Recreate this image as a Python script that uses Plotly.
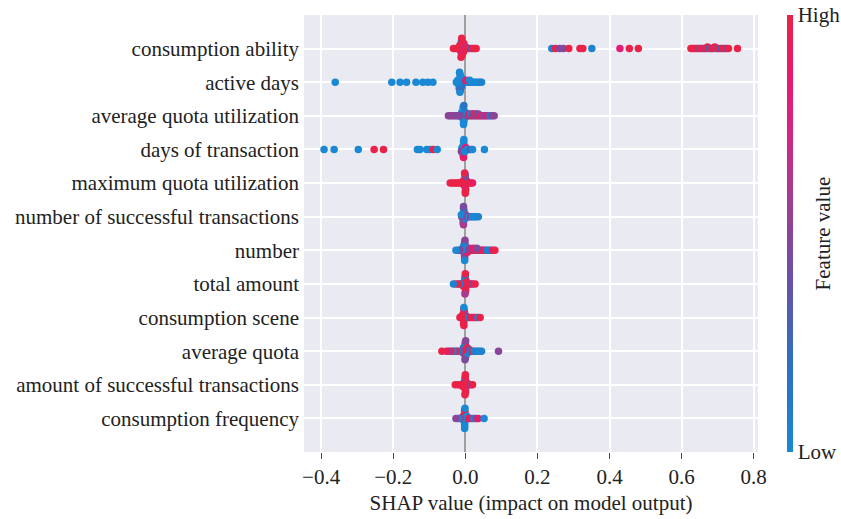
import numpy as np
import plotly.graph_objects as go

features = [
    "consumption ability", "active days", "average quota utilization",
    "days of transaction", "maximum quota utilization",
    "number of successful transactions", "number", "total amount",
    "consumption scene", "average quota", "amount of successful transactions",
    "consumption frequency",
]

x_ticks = [-0.4, -0.2, 0.0, 0.2, 0.4, 0.6, 0.8]
x_tick_labels = ["\u22120.4", "\u22120.2", "0.0", "0.2", "0.4", "0.6", "0.8"]

# SHAP values and (normalised) feature values
ca_shap = [-0.010, -0.011, -0.009, -0.010, -0.012, -0.008, -0.010, -0.011, -0.009, -0.010, -0.012, -0.010,
           -0.005, -0.004, -0.006, -0.005, -0.005, -0.004,
           -0.015, -0.016, -0.014, -0.015,
           -0.021, -0.027, -0.033,
           0.000, 0.001, 0.005, 0.010, 0.015, 0.020, 0.025, 0.030,
           0.240, 0.250, 0.262, 0.272, 0.287, 0.318, 0.326, 0.351, 0.429, 0.455, 0.480,
           0.626, 0.631, 0.636, 0.641, 0.646, 0.650, 0.655, 0.660, 0.664, 0.668, 0.672, 0.676,
           0.680, 0.684, 0.688, 0.692, 0.697, 0.701, 0.705, 0.710, 0.715, 0.720, 0.725, 0.730, 0.755]
ca_feat = [1, 1, 0.9, 1, 1, 0.55, 1, 0.95, 1, 0.15, 1, 1,
           1, 0.5, 1, 0.1, 1, 1,
           1, 1, 0.8, 1,
           1, 1, 1,
           1, 0.7, 1, 1, 0.35, 1, 1, 1,
           0.02, 1, 0.5, 0.45, 1, 1, 1, 0.05, 0.8, 1, 1,
           1, 1, 1, 1, 1, 0.5, 1, 1, 0.6, 1, 1, 0.3,
           1, 0.5, 1, 1, 0.45, 1, 1, 0.3, 1, 1, 0.5, 1, 1]

ad_shap = [-0.015, -0.014, -0.016, -0.015, -0.015, -0.013, -0.017, -0.015, -0.014, -0.016, -0.015,
           -0.010, -0.009, -0.011, -0.010, -0.010,
           -0.020, -0.021, -0.019, -0.025,
           -0.005, 0.000, 0.005, 0.010, 0.015, 0.020, 0.025, 0.030, 0.035, 0.040, 0.045, 0.002, 0.012,
           -0.361, -0.204, -0.181, -0.163, -0.137, -0.118, -0.104, -0.090]
ad_feat = [0, 0, 0.1, 0, 1, 0, 0.05, 0, 0.6, 0, 0,
           0, 0.7, 0, 0, 0.2,
           0, 0, 0.1, 0,
           0, 0.3, 0, 0, 0.1, 0, 0, 0, 0, 0, 0.05, 0.9, 0,
           0, 0, 0, 0, 0, 0, 0, 0]

aqu_shap = [-0.005, -0.006, -0.004, -0.005, -0.005, -0.006, -0.004, -0.005, -0.005, -0.006, -0.005, -0.004,
            -0.010, -0.011, -0.009, -0.010,
            0.000, 0.001, -0.001, 0.000,
            -0.015, -0.020, -0.025, -0.030, -0.036, -0.041, -0.047,
            0.005, 0.006, 0.010, 0.011, 0.015, 0.016, 0.020, 0.021, 0.025, 0.026, 0.030, 0.031,
            0.035, 0.036, 0.040, 0.045, 0.050, 0.055, 0.060, 0.065, 0.070, 0.075, 0.080]
aqu_feat = [0, 0, 0.1, 0, 0, 0.2, 0, 0, 0.05, 0, 0, 0.15,
            0, 0.5, 0, 0,
            0, 0.3, 0, 0.1,
            0.4, 0.5, 0.5, 0.45, 0.5, 0.55, 0.5,
            0.5, 0.1, 0.6, 0.9, 0.5, 0.05, 1, 0.5, 0.4, 0.95, 0.5, 0.55,
            1, 0.45, 0.5, 0.9, 0.6, 0.5, 0.85, 0.5, 0.1, 0.45, 0.5]

dt_shap = [-0.005, -0.004, -0.006, -0.005, -0.005, -0.004, -0.006, -0.005, -0.005, -0.004,
           -0.010, -0.009, -0.011,
           0.000, 0.001, -0.001,
           0.005, 0.010, 0.015, 0.020, 0.053,
           -0.392, -0.364, -0.297, -0.253, -0.227, -0.133, -0.126, -0.107, -0.098, -0.089, -0.078]
dt_feat = [0, 0.6, 0, 0, 1, 0, 0.2, 0, 0.9, 0,
           0, 0, 0.5,
           0, 0.8, 0,
           0, 0, 0.3, 0, 0,
           0, 0, 0, 1, 1, 0, 0, 0, 0, 1, 0]

mqu_shap = [0.000, -0.001, 0.001, 0.000, 0.000, -0.001, 0.001, 0.000, 0.000, -0.002, 0.000,
            -0.005, -0.006, -0.004,
            0.005, 0.004,
            -0.010, -0.015, -0.020, -0.025, -0.030, -0.036, -0.042,
            0.010, 0.015, 0.020]
mqu_feat = [1, 1, 1, 0.6, 1, 1, 1, 0.3, 1, 1, 1,
            1, 1, 0.8,
            1, 0.5,
            1, 1, 1, 1, 1, 1, 1,
            1, 1, 0.9]

nst_shap = [-0.005, -0.004, -0.006, -0.005, -0.005, -0.004, -0.006, -0.005, -0.005, -0.005,
            0.000, 0.001, -0.001,
            -0.010, -0.011,
            0.005, 0.010, 0.015, 0.020, 0.025, 0.030, 0.036]
nst_feat = [0.5, 0, 0.55, 1, 0.4, 0, 0.5, 0.2, 0.6, 0.45,
            0, 0.5, 0,
            0.5, 0,
            0.5, 0, 0.5, 0, 0, 0, 0.05]

num_shap = [-0.002, -0.001, -0.002, -0.002, -0.002, -0.001, -0.002, -0.002, -0.002, -0.001, -0.002,
            -0.005, -0.006, -0.004, -0.005,
            0.005, 0.004, 0.006,
            -0.010, -0.015, -0.020, -0.026,
            0.010, 0.015, 0.020, 0.025, 0.030, 0.035, 0.040, 0.045, 0.050, 0.055,
            0.060, 0.065, 0.070, 0.076, 0.082, 0.012, 0.022, 0.032]
num_feat = [0.5, 0.2, 0.5, 0, 0.45, 0.5, 0.6, 0.1, 0.5, 0.5, 0,
            0.5, 0, 0.45, 0.1,
            0.5, 0, 0.9,
            0, 0.5, 0.4, 0,
            0.5, 0.9, 1, 0.5, 1, 0.95, 0.5, 1, 1, 0.9,
            0.1, 0.05, 0.1, 0.9, 1, 0.5, 0.9, 0.45]

ta_shap = [0.000, -0.001, 0.001, 0.000, 0.000, -0.001, 0.001, 0.000, 0.000, 0.000, -0.001,
           -0.005, -0.004, -0.006,
           0.005, 0.004,
           -0.010, -0.015, -0.020, -0.026, -0.033,
           0.010, 0.015, 0.020, 0.027]
ta_feat = [1, 1, 0.5, 1, 1, 0.9, 1, 0.2, 1, 1, 0.6,
           1, 0, 1,
           1, 1,
           1, 0.1, 1, 1, 0.05,
           1, 1, 0.5, 1]

cs_shap = [-0.004, -0.003, -0.005, -0.004, -0.004, -0.003, -0.005, -0.004, -0.004, -0.004,
           0.000, 0.001,
           -0.010, -0.009, -0.015,
           0.005, 0.010, 0.015, 0.020, 0.025, 0.030, 0.035, 0.041]
cs_feat = [1, 1, 0.5, 1, 0.1, 1, 1, 0.95, 1, 0,
           1, 0.5,
           1, 1, 1,
           1, 0.1, 1, 1, 0.9, 1, 0.05, 1]

aq_shap = [0.000, -0.001, 0.001, 0.000, 0.000, -0.001, 0.001, 0.000, 0.000, 0.000, -0.001, 0.001,
           -0.005, -0.004, -0.006, -0.005,
           0.005, 0.004, 0.006, 0.005,
           0.010, 0.011,
           -0.010, -0.015, -0.020, -0.025, -0.030, -0.035, -0.040, -0.046, -0.052, -0.065,
           0.015, 0.020, 0.025, 0.030, 0.035, 0.040, 0.045, 0.092]
aq_feat = [0.5, 0.5, 0.45, 0.55, 0.5, 0.4, 0.5, 0.6, 0.5, 0.5, 0.45, 0.5,
           0.5, 1, 0.5, 0.1,
           0.5, 0.5, 0, 1,
           0.1, 0.5,
           1, 0.5, 0.1, 1, 0.5, 0.05, 1, 0.5, 0.9, 1,
           0.1, 1, 0, 0.1, 0.05, 0, 0.05, 0.5]

ast_shap = [0.000, -0.001, 0.001, 0.000, 0.000, -0.001, 0.001, 0.000, 0.000, 0.000, -0.001,
            -0.005, -0.004, -0.006,
            0.005, 0.004,
            -0.010, -0.015, -0.020, -0.028,
            0.010, 0.015, 0.020]
ast_feat = [1, 1, 0.5, 1, 1, 1, 0.6, 1, 1, 1, 1,
            1, 0.5, 1,
            1, 1,
            1, 1, 1, 1,
            1, 0.5, 1]

cf_shap = [-0.002, -0.001, -0.002, -0.002, -0.002, -0.001, -0.002, -0.002, -0.002, -0.001, -0.002,
           -0.005, -0.006, -0.004,
           0.005, 0.004,
           -0.010, -0.015, -0.020, -0.026,
           0.010, 0.015, 0.020, 0.025, 0.030, 0.036, 0.052]
cf_feat = [0, 0, 1, 0, 0, 0.5, 0, 1, 0, 0, 0,
           0, 1, 0,
           0.5, 0,
           0, 0.5, 0, 0.5,
           1, 0.9, 0.5, 0, 0.5, 0.9, 0]

shap_values = [ca_shap, ad_shap, aqu_shap, dt_shap, mqu_shap, nst_shap,
               num_shap, ta_shap, cs_shap, aq_shap, ast_shap, cf_shap]
feature_values = [ca_feat, ad_feat, aqu_feat, dt_feat, mqu_feat, nst_feat,
                  num_feat, ta_feat, cs_feat, aq_feat, ast_feat, cf_feat]


def swarm_offsets(vals, bin_width=0.005, row_height=0.4):
    """SHAP-style beeswarm stacking of points that share a bin."""
    v = np.asarray(vals, dtype=float)
    q = np.round(v / bin_width)
    order = np.argsort(q, kind="stable")
    ys = np.zeros(len(v))
    layer, last = 0, None
    for i in order:
        if q[i] != last:
            layer = 0
        ys[i] = np.ceil(layer / 2) * ((layer % 2) * 2 - 1)
        layer += 1
        last = q[i]
    ys *= 0.9 * (row_height / np.max(ys + 1))
    return ys


n = len(features)
xs, ys, cs = [], [], []
for i, (sv, fv) in enumerate(zip(shap_values, feature_values)):
    assert len(sv) == len(fv), features[i]
    pos = n - 1 - i
    off = swarm_offsets(sv)
    xs.extend(sv)
    ys.extend(pos + off)
    cs.extend(fv)

colorscale = [
    [0.0, "#1a88d4"],
    [0.2, "#2c70c0"],
    [0.4, "#6a50a6"],
    [0.5, "#8a4598"],
    [0.6, "#a83a90"],
    [0.75, "#d9227f"],
    [0.87, "#e81a6c"],
    [1.0, "#ea2248"],
]

FONT = "Liberation Serif"
fig = go.Figure()
fig.add_trace(go.Scatter(
    x=xs, y=ys, mode="markers",
    marker=dict(size=7.5, color=cs, cmin=0, cmax=1, colorscale=colorscale,
                line=dict(width=0),
                colorbar=dict(
                    thickness=6, len=1, lenmode="fraction", y=0.5, yanchor="middle",
                    x=1.064, xanchor="left", xpad=0, ypad=0, outlinewidth=0,
                    tickvals=[0, 1], ticktext=["Low", "High"], ticks="",
                    tickfont=dict(family=FONT, size=21, color="#222"),
                )),
    hoverinfo="skip", showlegend=False,
))

fig.add_annotation(text="Feature value", xref="paper", yref="paper", x=1.143, y=0.5,
                   xanchor="center", yanchor="middle",
                   textangle=-90, showarrow=False,
                   font=dict(family=FONT, size=21, color="#222"))

fig.update_layout(
    width=841, height=519,
    margin=dict(l=304, r=83, t=15, b=67, autoexpand=False),
    paper_bgcolor="white", plot_bgcolor="#eaeaf2",
    font=dict(family=FONT, size=21, color="#222"),
    xaxis=dict(range=[-0.4476, 0.812], tickvals=x_ticks, ticktext=x_tick_labels,
               showgrid=True, gridcolor="white", gridwidth=2,
               zeroline=True, zerolinecolor="#a0a0a0", zerolinewidth=1.5,
               ticks="outside", ticklen=6, tickcolor="#444", tickwidth=1,
               showline=False, automargin=False,
               tickfont=dict(family=FONT, size=21, color="#222"),
               title=dict(text="SHAP value (impact on model output)", standoff=7,
                          font=dict(family=FONT, size=21, color="#222"))),
    yaxis=dict(range=[-1, n], tickvals=list(range(n)), ticktext=features[::-1],
               showgrid=True, gridcolor="white", gridwidth=2, zeroline=False,
               ticks="", showline=False, ticklabelstandoff=4, automargin=False,
               tickfont=dict(family=FONT, size=21, color="#222")),
)

fig.write_html(
    "out.html",
    config={"displayModeBar": False},
    post_script="document.body.style.margin='0';document.body.style.overflow='hidden';",
)
